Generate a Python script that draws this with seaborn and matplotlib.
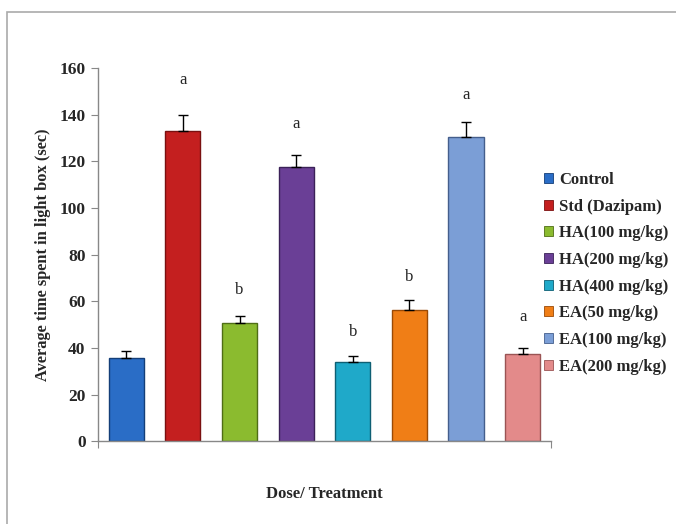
import matplotlib.pyplot as plt
import numpy as np
import seaborn as sns
import pandas as pd
from matplotlib.patches import Patch, Rectangle

# data
groups = ['Control', 'Std (Dazipam)', 'HA(100 mg/kg)', 'HA(200 mg/kg)',
          'HA(400 mg/kg)', 'EA(50 mg/kg)', 'EA(100 mg/kg)', 'EA(200 mg/kg)']
means = [35.8, 133, 50.6, 117.7, 33.8, 56.2, 130.4, 37.6]
errs = [2.8, 7.0, 3.2, 5.0, 2.8, 4.3, 6.6, 2.4]
letters = ['', 'a', 'b', 'a', 'b', 'b', 'a', 'a']
letter_y = [0, 155, 65, 136, 47, 70.5, 148.5, 53.3]

colors = ['#2a6dc6', '#c41f1f', '#8bbb2f', '#6a3f96',
          '#1fa9c9', '#f07e16', '#7b9ed6', '#e38a8a']
edges = ['#143e78', '#7a1010', '#4f6e16', '#3b2158',
         '#0e5f73', '#9a4a06', '#445e8c', '#9a5454']

df = pd.DataFrame({'group': groups, 'mean': means})

sns.set_style('white')
plt.rcParams['font.family'] = ['Liberation Serif', 'DejaVu Serif']

fig = plt.figure(figsize=(6.76, 5.24), dpi=100)
ax = fig.add_axes([0.145, 0.158, 0.670, 0.712])

sns.barplot(data=df, x='group', y='mean', hue='group', palette=colors,
            dodge=False, width=0.62, legend=False, ax=ax, saturation=1)
for p, ec in zip(ax.patches, edges):
    p.set_edgecolor(ec)
    p.set_linewidth(1.0)

x = np.arange(len(groups))
ax.errorbar(x, means, yerr=[np.zeros(len(errs)), errs], fmt='none',
            ecolor='black', elinewidth=1, capsize=3.5, capthick=1)

for xi, lab, ly in zip(x, letters, letter_y):
    if lab:
        ax.text(xi, ly, lab, ha='center', va='center', fontsize=12)

ax.set_xlim(-0.5, len(groups) - 0.5)
ax.set_ylim(0, 160)
ax.set_yticks(np.arange(0, 161, 20))
ax.set_yticklabels([str(v) for v in range(0, 161, 20)], fontsize=12.5, fontweight='bold')
ax.set_xticks([-0.5, len(groups) - 0.5])
ax.set_xticklabels(['', ''])
ax.tick_params(axis='both', direction='out', length=5, width=0.8, color='#888888',
               left=True, bottom=True, pad=4)
for s in ['top', 'right']:
    ax.spines[s].set_visible(False)
for s in ['left', 'bottom']:
    ax.spines[s].set_color('#888888')
    ax.spines[s].set_linewidth(1.0)
ax.set_xlabel('')
ax.set_ylabel('Average time spent in light box (sec)', fontsize=11.8, fontweight='bold', labelpad=6)

fig.text(324 / 676, 1 - 494 / 524, 'Dose/ Treatment', ha='center', va='center',
         fontsize=12, fontweight='bold')

handles = [Patch(facecolor=c, edgecolor=e, linewidth=0.6) for c, e in zip(colors, edges)]
fig.legend(handles, groups, loc='upper left', bbox_to_anchor=(529 / 676, 1 - 157 / 524),
           frameon=False, handlelength=0.55, handleheight=0.55, handletextpad=0.35,
           labelspacing=0.64, prop={'weight': 'bold', 'size': 12})

# outer frame
fig.patches.append(Rectangle((7 / 676, -0.1), 1.2, 1 - 12 / 524 + 0.1,
                             transform=fig.transFigure, fill=False,
                             edgecolor='#aaaaaa', linewidth=1.2))

fig.savefig('out.png', dpi=100)
